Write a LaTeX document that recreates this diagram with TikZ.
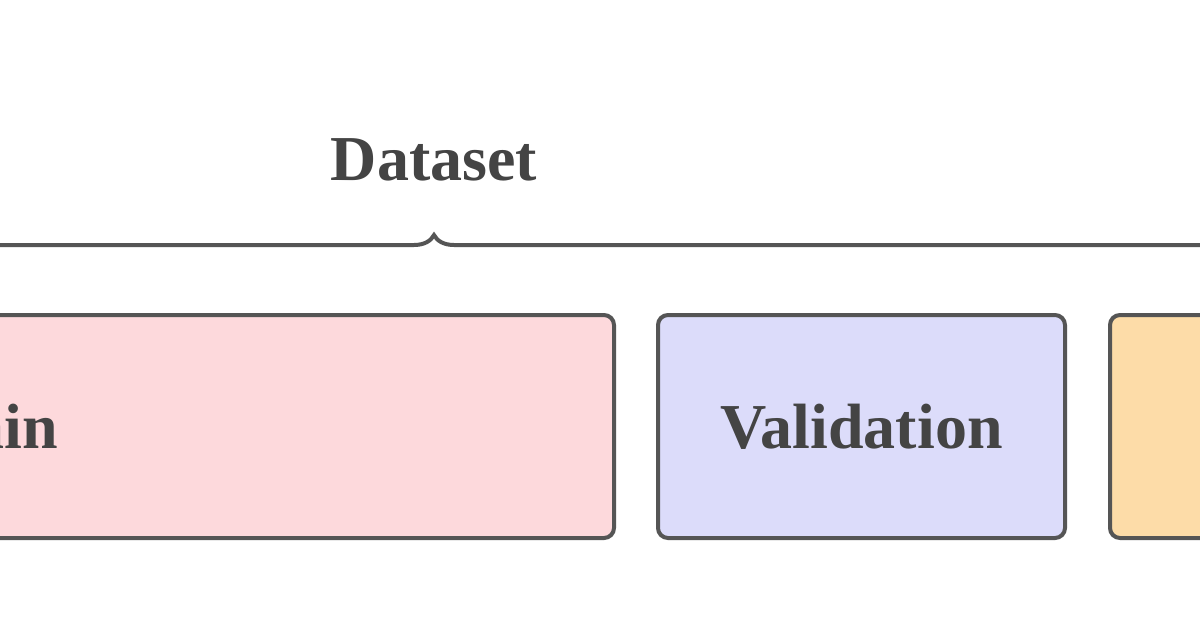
\documentclass[tikz,border=0pt]{standalone}
\usepackage{fontspec}
\setmainfont{Liberation Serif}
\usetikzlibrary{decorations.pathreplacing}
\definecolor{edge}{HTML}{555555}
\definecolor{txt}{HTML}{444444}
\definecolor{trainc}{HTML}{FDD9DC}
\definecolor{valc}{HTML}{DCDCFA}
\definecolor{testc}{HTML}{FDDCA8}
\begin{document}
\begin{tikzpicture}[x=0.5pt,y=-0.5pt,
  part/.style={draw=edge,line width=2pt,rounded corners=5pt,text=txt,font=\fontsize{32}{38}\selectfont\bfseries}]
\useasboundingbox (0,0) rectangle (1200,628);
\clip (0,0) rectangle (1200,628);
\fill[white] (0,0) rectangle (1200,628);
\node[part,fill=trainc,minimum width=1264*0.5pt,minimum height=223*0.5pt] (train) at (-18,426.5) {Train};
\node[part,fill=valc,minimum width=407*0.5pt,minimum height=223*0.5pt] (val) at (861.5,426.5) {Validation};
\node[part,fill=testc,minimum width=407*0.5pt,minimum height=223*0.5pt] (test) at (1313.5,426.5) {Test};
\coordinate (bl) at (-640,245);
\coordinate (br) at (1508,245);
\draw[edge,line width=2pt,decorate,decoration={brace,amplitude=10pt,aspect=0.5,raise=-5pt}] (bl) -- (br);
\node[text=txt,font=\fontsize{32}{38}\selectfont\bfseries] (ds) at (434,160) {Dataset};
\end{tikzpicture}
\end{document}
